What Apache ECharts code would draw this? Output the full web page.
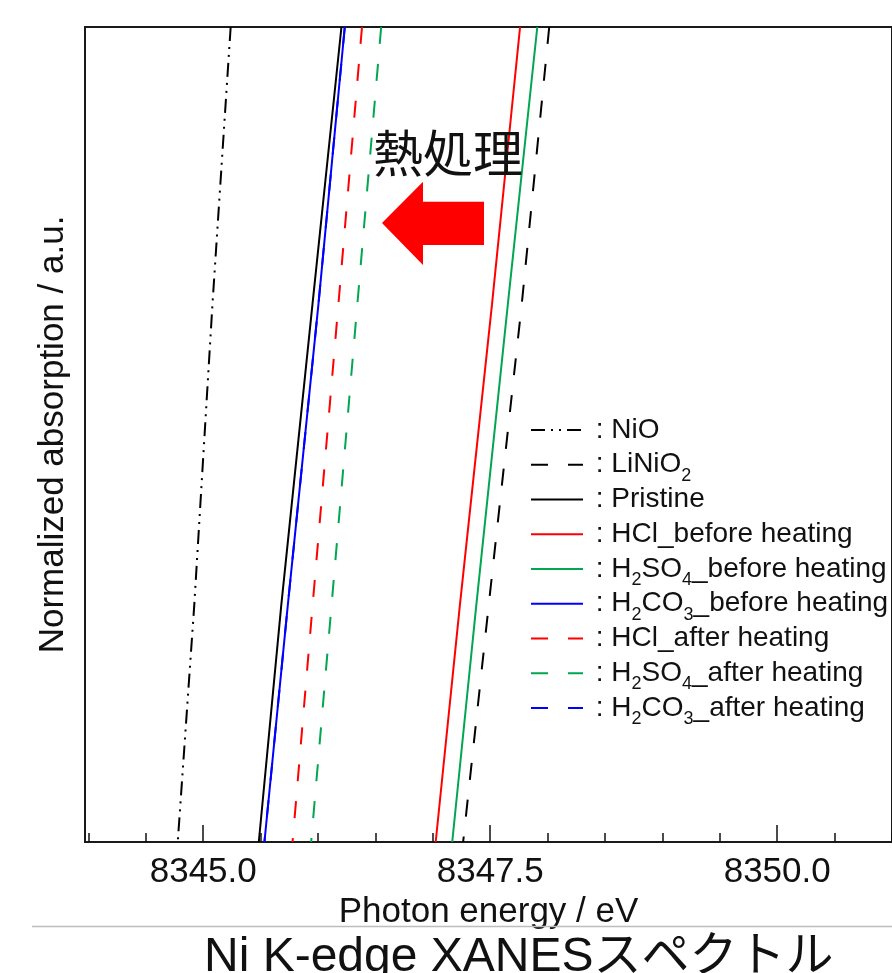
<!DOCTYPE html>
<html>
<head>
<meta charset="utf-8">
<script src="https://cdn.jsdelivr.net/npm/echarts@6/dist/echarts.min.js"></script>
<style>
html,body{margin:0;padding:0;background:#fff;}
#chart{width:892px;height:973px;}
</style>
</head>
<body>
<div id="chart"></div>
<script>
// ---- data ----
// normalized absorption levels at which the edge positions were read
const yLevels = [1.0, 0.659, 0.291, 0.0];
// photon energy (eV) of each spectrum at those absorption levels
const NiO          = [8345.239, 8345.080, 8344.922, 8344.778];
const LiNiO2       = [8348.014, 8347.774, 8347.487, 8347.264];
const Pristine     = [8346.204, 8345.951, 8345.680, 8345.484];
const HCl_before   = [8347.760, 8347.515, 8347.236, 8347.025];
const H2SO4_before = [8347.910, 8347.653, 8347.379, 8347.169];
const H2CO3_before = [8346.233, 8346.003, 8345.737, 8345.533];
const HCl_after    = [8346.383, 8346.177, 8345.953, 8345.778];
const H2SO4_after  = [8346.550, 8346.342, 8346.118, 8345.940];
const H2CO3_after  = [8346.233, 8346.003, 8345.737, 8345.533];

const seriesNames = ['NiO','LiNiO2','Pristine','HCl_before heating','H2SO4_before heating',
  'H2CO3_before heating','HCl_after heating','H2SO4_after heating','H2CO3_after heating'];
const seriesValues = [NiO, LiNiO2, Pristine, HCl_before, H2SO4_before, H2CO3_before, HCl_after, H2SO4_after, H2CO3_after];

const majorTicks = [8345.0, 8347.5, 8350.0];
const minorTicks = [8344.0, 8344.5, 8345.0, 8345.5, 8346.0, 8346.5, 8347.0, 8347.5, 8348.0,
  8348.5, 8349.0, 8349.5, 8350.0, 8350.5, 8351.0];
const xMin = 8343.97, xMax = 8351.0;

// ---- styles ----
const RED = '#ff0000', GREEN = '#00a650', BLUE = '#0000ff', BLACK = '#000000';
const DASH = [17, 20];
const DASHDOTDOT = [14, 6, 2, 6, 2, 6];
const styles = [
  {color: BLACK, type: DASHDOTDOT},
  {color: BLACK, type: DASH},
  {color: BLACK, type: 'solid'},
  {color: RED, type: 'solid'},
  {color: GREEN, type: 'solid'},
  {color: BLUE, type: 'solid'},
  {color: RED, type: DASH},
  {color: GREEN, type: DASH},
  {color: BLUE, type: DASH}
];
// drawing order (blue dashed lies under the blue solid line)
const drawOrder = [8, 0, 1, 2, 5, 3, 4, 6, 7];

const LATIN = '"Liberation Sans", Arial, sans-serif';
const CJK = '"Liberation Sans", "Noto Sans CJK JP", sans-serif';

function legendLabel(name) {
  return ' : ' + name
    .replace('LiNiO2', 'LiNiO{sub|2}')
    .replace('H2SO4', 'H{sub|2}SO{sub|4}')
    .replace('H2CO3', 'H{sub|2}CO{sub|3}');
}

const series = drawOrder.map(i => ({
  name: seriesNames[i],
  type: 'line',
  data: seriesValues[i].map((e, k) => [e, yLevels[k]]),
  symbol: 'none',
  showSymbol: false,
  clip: true,
  silent: true,
  animation: false,
  lineStyle: {color: styles[i].color, width: 2, type: styles[i].type},
  itemStyle: {color: styles[i].color}
}));

const chart = echarts.init(document.getElementById('chart'), null, {renderer: 'canvas'});
chart.setOption({
  animation: false,
  backgroundColor: '#ffffff',
  grid: {
    left: 85, top: 27, width: 813, height: 815,
    show: true, borderColor: '#1a1a1a', borderWidth: 2, backgroundColor: 'transparent',
    containLabel: false
  },
  xAxis: [{
    type: 'value', min: xMin, max: xMax, position: 'bottom',
    name: 'Photon energy / eV', nameLocation: 'middle', nameGap: 44,
    nameTextStyle: {fontFamily: LATIN, fontSize: 35, color: '#111'},
    axisLine: {show: true, lineStyle: {color: '#1a1a1a', width: 2}},
    axisTick: {show: true, inside: true, length: 9, customValues: minorTicks,
      lineStyle: {color: '#111', width: 1.5}},
    axisLabel: {show: true, customValues: majorTicks, margin: 13,
      fontFamily: LATIN, fontSize: 35, color: '#111',
      formatter: v => Number(v).toFixed(1)},
    splitLine: {show: false}
  }, {
    type: 'value', min: xMin, max: xMax, position: 'bottom',
    axisLine: {show: false},
    axisTick: {show: true, inside: true, length: 17, customValues: majorTicks,
      lineStyle: {color: '#111', width: 1.5}},
    axisLabel: {show: false},
    splitLine: {show: false}
  }],
  yAxis: {
    type: 'value', min: 0, max: 1,
    name: 'Normalized absorption / a.u.', nameLocation: 'middle', nameGap: 14, nameRotate: 90,
    nameTextStyle: {fontFamily: LATIN, fontSize: 35, color: '#111'},
    axisLine: {show: true, lineStyle: {color: '#1a1a1a', width: 2}},
    axisTick: {show: false},
    axisLabel: {show: false},
    splitLine: {show: false}
  },
  legend: {
    show: true, orient: 'vertical', left: 530, top: 410, padding: 0,
    itemWidth: 52, itemHeight: 14, itemGap: -5.25,
    data: seriesNames,
    selectedMode: false,
    formatter: legendLabel,
    itemStyle: {opacity: 0, borderWidth: 0},
    lineStyle: {width: 2},
    textStyle: {
      fontFamily: LATIN, fontSize: 28, color: '#111', lineHeight: 40,
      rich: {
        sub: {fontFamily: LATIN, fontSize: 18, color: '#111',
          verticalAlign: 'bottom'}
      }
    }
  },
  graphic: [
    {type: 'text', x: 448, y: 153, z: 100,
      style: {text: '熱処理', font: '50px "Noto Sans CJK JP", sans-serif', fill: '#111',
        textAlign: 'center', textVerticalAlign: 'middle'}},
    {type: 'polygon', z: 100,
      shape: {points: [[382,223],[423,181.7],[423,201.7],[484,201.7],[484,245],[423,245],[423,265]]},
      style: {fill: '#ff0000'}},
    {type: 'line', z: 100, shape: {x1: 32, y1: 926.5, x2: 892, y2: 926.5},
      style: {stroke: '#bdbdbd', lineWidth: 1.5}},
    {type: 'text', x: 204, y: 958, z: 100,
      style: {text: 'Ni K-edge XANESスペクトル', font: '48px ' + CJK, fill: '#111',
        textAlign: 'left', textVerticalAlign: 'middle'}}
  ],
  series: series
});
</script>
</body>
</html>
